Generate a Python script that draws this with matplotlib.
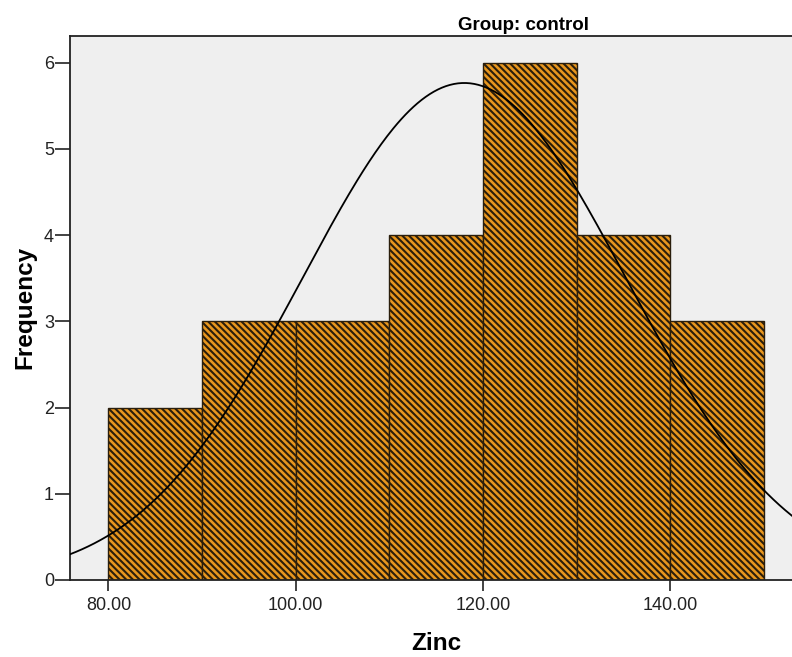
import numpy as np
import matplotlib
matplotlib.use("Agg")
import matplotlib.pyplot as plt

# Data
bin_edges = [80, 90, 100, 110, 120, 130, 140, 150]
frequencies = [2, 3, 3, 4, 6, 4, 3]
curve_mean = 118.0   # (peak position)
curve_sd = 17.3      # (peak height / spread)
x_ticks = [80, 100, 120, 140]
x_tick_labels = ["80.00", "100.00", "120.00", "140.00"]
y_ticks = [0, 1, 2, 3, 4, 5, 6]
title = "Group: control"
x_label = "Zinc"
y_label = "Frequency"

plt.rcParams['font.family'] = ['Liberation Sans', 'DejaVu Sans']
plt.rcParams['hatch.linewidth'] = 1.5
plt.rcParams['hatch.color'] = '#2a1e0c'

W, H = 792, 657
fig = plt.figure(figsize=(W / 100, H / 100), dpi=100)
fig.patch.set_facecolor('white')

x_lo, x_hi = 75.9, 162.0
vis_hi = 153.0
ax_left = 70 / W
ax_bottom = (H - 580) / H
ax_height = (580 - 36) / H
ax_width = 1.0 - ax_left
scale = (x_hi - x_lo) / (vis_hi - x_lo)
ax = fig.add_axes([ax_left, ax_bottom, ax_width * scale, ax_height])
ax.set_facecolor('#efefef')

lefts = np.array(bin_edges[:-1])
widths = np.diff(bin_edges)
ax.bar(lefts, frequencies, width=widths, align='edge', color='#e8961e',
       edgecolor='#2a1e0c', linewidth=1.0, hatch='\\' * 5, zorder=2)

n = sum(frequencies)
xs = np.linspace(x_lo, x_hi, 400)
ys = n * widths[0] / (curve_sd * np.sqrt(2 * np.pi)) * \
    np.exp(-0.5 * ((xs - curve_mean) / curve_sd) ** 2)
ax.plot(xs, ys, color='black', linewidth=1.3, zorder=3)

ax.set_xlim(x_lo, x_hi)
ax.set_ylim(0, 6.31)
ax.set_xticks(x_ticks)
ax.set_xticklabels(x_tick_labels)
ax.set_yticks(y_ticks)
ax.tick_params(axis='x', direction='out', length=8, width=1.2,
               labelsize=13, colors='#222222', pad=4)
ax.tick_params(axis='y', direction='out', length=11, width=1.2,
               labelsize=13, colors='#222222', pad=0.5)
for s in ['left', 'bottom', 'top']:
    ax.spines[s].set_linewidth(1.3)
    ax.spines[s].set_color('#222222')
ax.spines['right'].set_visible(False)

fig.text(524 / W, 1 - 25 / H, title, ha='center', va='center',
         fontsize=13.5, fontweight='bold')
fig.text(436 / W, 1 - 643 / H, x_label, ha='center', va='center',
         fontsize=17.5, fontweight='bold')
fig.text(25 / W, 1 - 307 / H, y_label, ha='center', va='center',
         fontsize=17.5, fontweight='bold', rotation=90)

fig.savefig('out.png', dpi=100, facecolor='white')
